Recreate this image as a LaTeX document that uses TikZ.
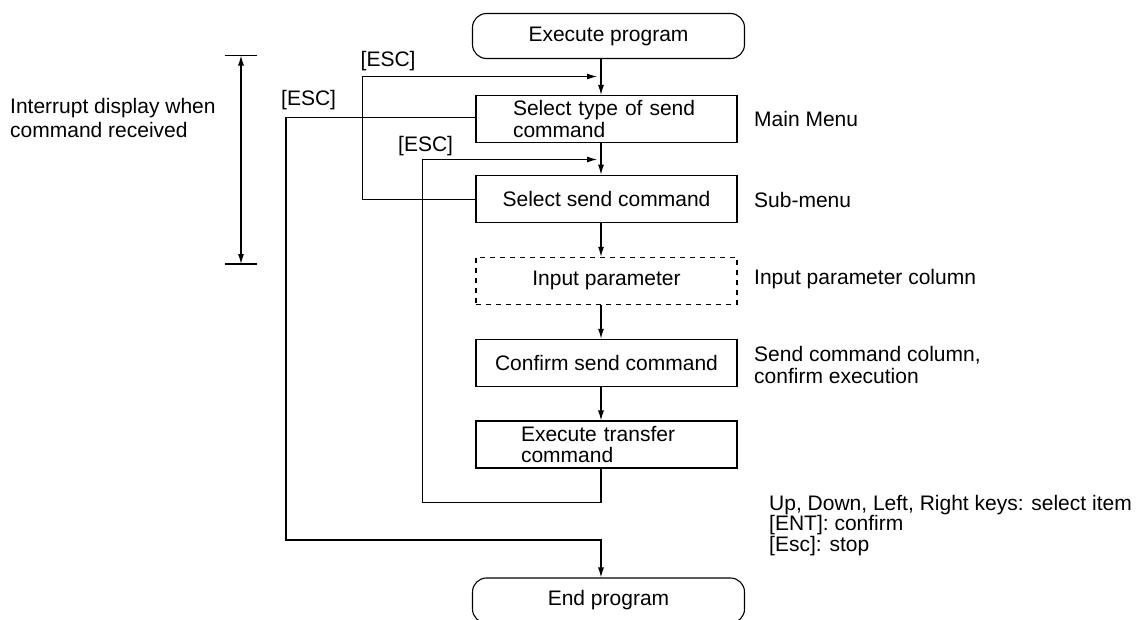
\documentclass[tikz,border=0pt]{standalone}
\usepackage{fontspec}
\setmainfont{Liberation Sans}
\usetikzlibrary{arrows.meta,calc}
\begin{document}
\begin{tikzpicture}[x=1pt,y=-1pt,
  every node/.style={font=\fontsize{21}{21.5}\selectfont, inner sep=0pt},
  ln/.style={line width=1.1pt, black},
  tip/.tip={Latex[length=10pt,width=6pt]},
  arr/.style={ln, -tip},
  boxnode/.style={draw, line width=1.1pt, minimum width=261pt, minimum height=47pt, align=left},
  dashbox/.style={boxnode, dash pattern=on 5pt off 5pt},
  term/.style={draw, line width=1.1pt, rounded corners=14pt, minimum width=272pt, minimum height=45pt},
  lbl/.style={anchor=west, align=left}]
\useasboundingbox (0,0) rectangle (1139,619);
% axis of the vertical connectors
\coordinate (ax) at (601,0);
% flow boxes
\node[term] (start) at (608.5,36) {Execute program\vphantom{Ep}};
\node[boxnode, text width=187pt, inner xsep=37pt] (b1) at (606.5,119) {Select type of send\\command};
\node[boxnode] (b2) at (606.5,198.7) {Select send command};
\node[dashbox] (b3) at (606.5,280.8) {Input parameter};
\node[boxnode] (b4) at (606.5,362.8) {Confirm send command};
\node[boxnode, text width=171pt, inner xsep=45pt] (b5) at (606.5,444.5) {Execute transfer\\command};
\node[term] (stop) at (608.5,600.5) {End program};
% side labels
\node[lbl] (l1) at (754,118.5) {Main Menu};
\node[lbl] (l2) at (754,199.5) {Sub-menu};
\node[lbl] (l3) at (754,279.5) {Input parameter column};
\node[lbl, font=\fontsize{21}{22}\selectfont] (l4) at (754,365) {Send command column,\\confirm execution};
\node[lbl, font=\fontsize{21}{20.5}\selectfont] (l5) at (769,525.5) {Up, Down, Left, Right keys: select item\\{}[ENT]: confirm\\{}[Esc]: stop};
\node[lbl, font=\fontsize{21}{24}\selectfont] (l6) at (10,118) {Interrupt display when\\command received};
% ESC labels
\node[anchor=west] (e1) at (360.5,61.5) {[ESC]};
\node[anchor=west] (e2) at (398,146) {[ESC]};
\node[anchor=west] (e3) at (281,100) {[ESC]};
% main flow
\draw[arr] (start.south -| ax) -- (b1.north -| ax);
\draw[arr] (b1.south -| ax) -- (b2.north -| ax);
\draw[arr] (b2.south -| ax) -- (b3.north -| ax);
\draw[arr] (b3.south -| ax) -- (b4.north -| ax);
\draw[arr] (b4.south -| ax) -- (b5.north -| ax);
% ESC loops
\coordinate (t1) at (597,76.5);
\coordinate (t2) at (597,159.5);
\draw[arr] (b2.west |- 0,199.3) -| (362.5,76.5) -- (t1);
\draw[arr] (b5.south -| ax) |- (422.5,502.5) |- (t2);
\draw[arr] (b1.west |- 0,117.7) -| (286,540) -| (stop.north -| ax);
% dimension arrow
\coordinate (dt) at (241,55.5);
\coordinate (db) at (241,264);
\draw[ln] (225,55.5) -- (257,55.5);
\draw[ln] (225,264) -- (257,264);
\draw[ln, tip-tip] (dt) -- (db);
\end{tikzpicture}
\end{document}
